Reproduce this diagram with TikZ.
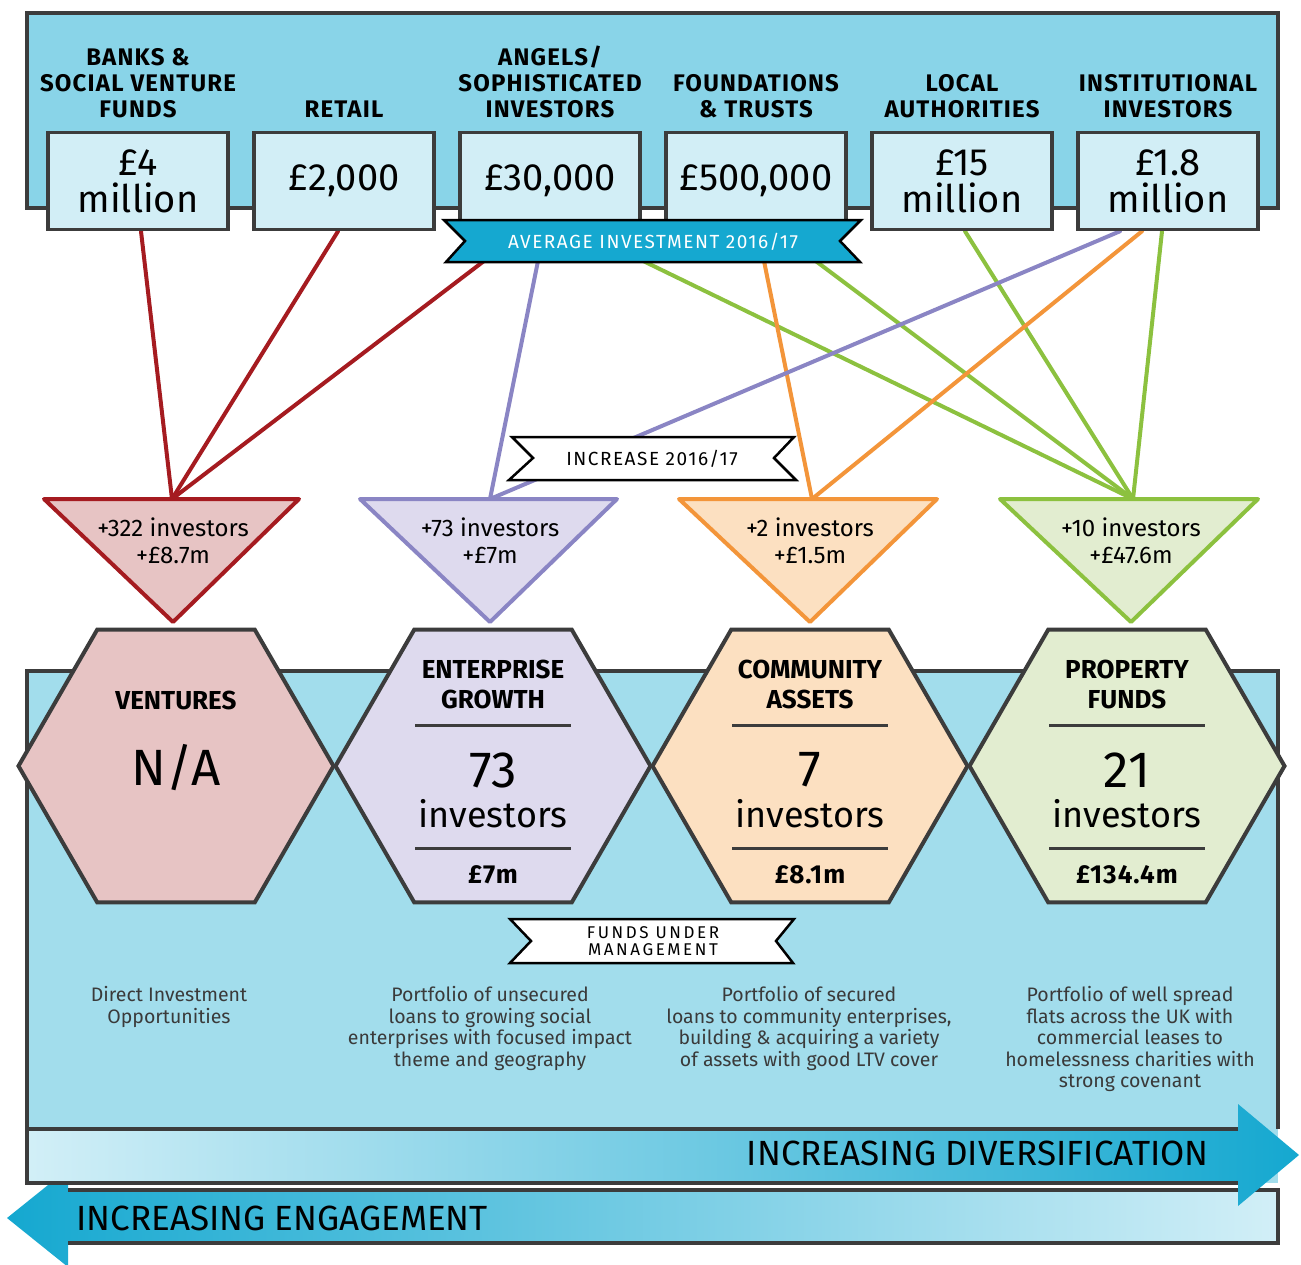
\documentclass[tikz,border=0pt]{standalone}
\usepackage{fontspec}
\setmainfont{Fira Sans}
\usetikzlibrary{positioning, shapes.geometric, backgrounds}

\definecolor{panelblue}{HTML}{89D4E8}
\definecolor{lowblue}{HTML}{A2DDEC}
\definecolor{boxblue}{HTML}{D2EEF6}
\definecolor{ribbon}{HTML}{15A8D0}
\definecolor{arrowlight}{HTML}{D2EFF7}
\definecolor{edgegray}{HTML}{3C3C3C}
\definecolor{desctext}{HTML}{3A3A3A}
\definecolor{vred}{HTML}{A51B20}
\definecolor{vredfill}{HTML}{E7C4C4}
\definecolor{epurple}{HTML}{8A85C4}
\definecolor{epurplefill}{HTML}{DEDAEE}
\definecolor{corange}{HTML}{F3953A}
\definecolor{corangefill}{HTML}{FCE0C1}
\definecolor{pgreen}{HTML}{8CC13F}
\definecolor{pgreenfill}{HTML}{E2EDD0}

\newcommand{\fsz}[2]{\fontsize{#1}{#2}\selectfont}
\newcommand{\spaced}[1]{\addfontfeature{LetterSpace=#1}}

\begin{document}
\begin{tikzpicture}[x=1pt, y=-1pt, semithick, node distance=206pt]
\tikzstyle{valbox}=[draw=edgegray, line width=3.5pt, fill=boxblue, minimum width=180pt, minimum height=97pt, align=center, inner sep=0, font=\fsz{38}{37}]
\tikzstyle{cat}=[font=\bfseries\fsz{24}{26}\spaced{5}, align=center, inner sep=0]
\tikzstyle{link}=[line width=4pt, line cap=round]
\tikzstyle{flag}=[draw=black, line width=2.5pt]
\tikzstyle{tri}=[line width=4pt, line join=round]
\tikzstyle{tritext}=[font=\fsz{24}{27}, align=center, inner sep=0]
\tikzstyle{hexa}=[regular polygon, regular polygon sides=6, minimum size=315pt, inner sep=0, draw=edgegray, line width=4pt]
\tikzstyle{htitle}=[font=\bfseries\fsz{26}{30}, align=center, inner sep=0]
\tikzstyle{hnum}=[font=\fsz{51}{51}, inner sep=0]
\tikzstyle{hinv}=[font=\fsz{36}{36}, inner sep=0]
\tikzstyle{hamt}=[font=\bfseries\fsz{26}{26}\spaced{4}, inner sep=0]
\tikzstyle{sepline}=[edgegray, line width=3pt]
\tikzstyle{desc}=[font=\fsz{19.5}{21.5}, text=desctext, align=center, inner sep=0, anchor=north]
\tikzstyle{arrowtext}=[font=\fsz{35}{35}, inner sep=0]

\useasboundingbox (0,0) rectangle (1301,1264);

% investor panel
\draw[edgegray, line width=4pt, fill=panelblue] (27,13) rectangle (1278,208);

\node[valbox]                 (banks)  at (138,181) {£4\\million};
\node[valbox, right of=banks]  (retail) {£2,000};
\node[valbox, right of=retail] (angels) {£30,000};
\node[valbox, right of=angels] (found)  {£500,000};
\node[valbox, right of=found]  (local)  {£15\\million};
\node[valbox, right of=local]  (inst)   {£1.8\\million};

\node[cat, above=13pt of banks]  (banksname)  {BANKS \&\\SOCIAL VENTURE\\FUNDS};
\node[cat, above=13pt of retail] (retailname) {RETAIL};
\node[cat, above=13pt of angels] (angelsname) {ANGELS/\\SOPHISTICATED\\INVESTORS};
\node[cat, above=13pt of found]  (foundname)  {FOUNDATIONS\\\& TRUSTS};
\node[cat, above=13pt of local]  (localname)  {LOCAL\\AUTHORITIES};
\node[cat, above=13pt of inst]   (instname)   {INSTITUTIONAL\\INVESTORS};

% where the lines land
\coordinate (vtop) at (172,499);
\coordinate (etop) at (490,499);
\coordinate (ctop) at (812,499);
\coordinate (ptop) at (1133,499);

\begin{scope}[on background layer]
\draw[link, vred]    ([xshift=3pt]banks.south)   -- (vtop);
\draw[link, vred]    ([xshift=-6pt]retail.south) -- (vtop);
\draw[link, vred]    ([xshift=-27pt]angels.south) -- (vtop);
\draw[link, epurple] ([xshift=-6pt]angels.south) -- (etop);
\draw[link, pgreen]  ([xshift=32pt]angels.south) -- (ptop);
\draw[link, corange] ([xshift=2pt]found.south)   -- (ctop);
\draw[link, pgreen]  ([xshift=20pt]found.south)  -- (ptop);
\draw[link, pgreen]  ([xshift=3pt]local.south)   -- (ptop);
\draw[link, epurple] ([xshift=-48pt]inst.south)  -- (etop);
\draw[link, corange] ([xshift=-26pt]inst.south)  -- (ctop);
\draw[link, pgreen]  ([xshift=-6pt]inst.south)   -- (ptop);
\end{scope}

% ribbons
\draw[flag, fill=ribbon] (444,220) -- (861,220) -- (840,241) -- (860,262) -- (446,262) -- (465,241) -- cycle;
\node[font=\fsz{19}{19}\spaced{8}, text=white, inner sep=0] (avgtext) at (653,242) {AVERAGE INVESTMENT 2016/17};

\draw[flag, fill=white] (512,437) -- (794,437) -- (774,458) -- (796,480) -- (509,480) -- (533,458) -- cycle;
\node[font=\fsz{19}{19}\spaced{8}, inner sep=0] (inctext) at (652,459) {INCREASE 2016/17};

% increase triangles
\draw[tri, vred, fill=vredfill]       (44,499) -- (299,499) -- (173,622) -- cycle;
\draw[tri, epurple, fill=epurplefill] (360,499) -- (617,499) -- (490,622) -- cycle;
\draw[tri, corange, fill=corangefill] (679,499) -- (937,499) -- (810,622) -- cycle;
\draw[tri, pgreen, fill=pgreenfill]   (1000,499) -- (1258,499) -- (1131,622) -- cycle;
\node[tritext] (vinc) at (173,541) {+322 investors\\+£8.7m};
\node[tritext] (einc) at (490,541) {+73 investors\\+£7m};
\node[tritext] (cinc) at (810,541) {+2 investors\\+£1.5m};
\node[tritext] (pinc) at (1131,541) {+10 investors\\+£47.6m};

% funds panel
\fill[lowblue] (27,671) rectangle (1278,1183);
\draw[edgegray, line width=4pt] (27,1183) -- (27,671) -- (1278,671) -- (1278,1129);

\node[hexa, fill=vredfill] (ventures) at (176,766) {};
\begin{scope}[node distance=317pt]
\node[hexa, fill=epurplefill, right of=ventures]   (entgrowth)  {};
\node[hexa, fill=corangefill, right of=entgrowth]  (commassets) {};
\node[hexa, fill=pgreenfill,  right of=commassets] (propfunds)  {};
\end{scope}

\node[htitle] (ventname) at ([yshift=66pt]ventures.center) {VENTURES};
\node[hnum]   (ventnum)  at ([yshift=-2pt]ventures.center) {N/A};

\node[htitle] (entname) at ([yshift=82pt]entgrowth.center) {ENTERPRISE\\GROWTH};
\draw[sepline] ([xshift=-78pt, yshift=41pt]entgrowth.center) -- ([xshift=78pt, yshift=41pt]entgrowth.center);
\node[hnum]   (entnum) at ([yshift=-4pt]entgrowth.center) {73};
\node[hinv]   (entinv) at ([yshift=-48pt]entgrowth.center) {investors};
\draw[sepline] ([xshift=-78pt, yshift=-82pt]entgrowth.center) -- ([xshift=78pt, yshift=-82pt]entgrowth.center);
\node[hamt]   (entamt) at ([yshift=-109pt]entgrowth.center) {£7m};

\node[htitle] (comname) at ([yshift=82pt]commassets.center) {COMMUNITY\\ASSETS};
\draw[sepline] ([xshift=-78pt, yshift=41pt]commassets.center) -- ([xshift=78pt, yshift=41pt]commassets.center);
\node[hnum]   (comnum) at ([yshift=-4pt]commassets.center) {7};
\node[hinv]   (cominv) at ([yshift=-48pt]commassets.center) {investors};
\draw[sepline] ([xshift=-78pt, yshift=-82pt]commassets.center) -- ([xshift=78pt, yshift=-82pt]commassets.center);
\node[hamt]   (comamt) at ([yshift=-109pt]commassets.center) {£8.1m};

\node[htitle] (propname) at ([yshift=82pt]propfunds.center) {PROPERTY\\FUNDS};
\draw[sepline] ([xshift=-78pt, yshift=41pt]propfunds.center) -- ([xshift=78pt, yshift=41pt]propfunds.center);
\node[hnum]   (propnum) at ([yshift=-4pt]propfunds.center) {21};
\node[hinv]   (propinv) at ([yshift=-48pt]propfunds.center) {investors};
\draw[sepline] ([xshift=-78pt, yshift=-82pt]propfunds.center) -- ([xshift=78pt, yshift=-82pt]propfunds.center);
\node[hamt]   (propamt) at ([yshift=-109pt]propfunds.center) {£134.4m};

\draw[flag, fill=white] (510,919) -- (794,919) -- (776,941) -- (793,963) -- (510,963) -- (531,941) -- cycle;
\node[font=\fsz{17}{17}\spaced{15}, align=center, inner sep=0] (fumtext) at (653,941) {FUNDS UNDER\\MANAGEMENT};

\node[desc] (ventdesc) at (169,986) {Direct Investment\\Opportunities};
\node[desc] (entdesc)  at (490,986) {Portfolio of unsecured\\loans to growing social\\enterprises with focused impact\\theme and geography};
\node[desc] (comdesc)  at (809,986) {Portfolio of secured\\loans to community enterprises,\\building \& acquiring a variety\\of assets with good LTV cover};
\node[desc] (propdesc) at (1130,986) {Portfolio of well spread\\flats across the UK with\\commercial leases to\\homelessness charities with\\strong covenant};

% arrows
\path[left color=ribbon, right color=arrowlight] (1278,1190) -- (68,1190) -- (68,1169) -- (7,1218) -- (68,1267) -- (68,1243) -- (1278,1243) -- cycle;
\draw[edgegray, line width=4pt] (68,1190) -- (1278,1190) -- (1278,1243) -- (68,1243);
\path[left color=arrowlight, right color=ribbon] (27,1129) -- (1238,1129) -- (1238,1104) -- (1299,1155) -- (1238,1206) -- (1238,1183) -- (27,1183) -- cycle;
\draw[edgegray, line width=4pt] (1238,1129) -- (27,1129) -- (27,1183) -- (1238,1183);

\node[arrowtext, anchor=base east] (diversif) at (1209,1165) {INCREASING DIVERSIFICATION};
\node[arrowtext, anchor=base west] (engage) at (76,1230) {INCREASING ENGAGEMENT};

\end{tikzpicture}
\end{document}
